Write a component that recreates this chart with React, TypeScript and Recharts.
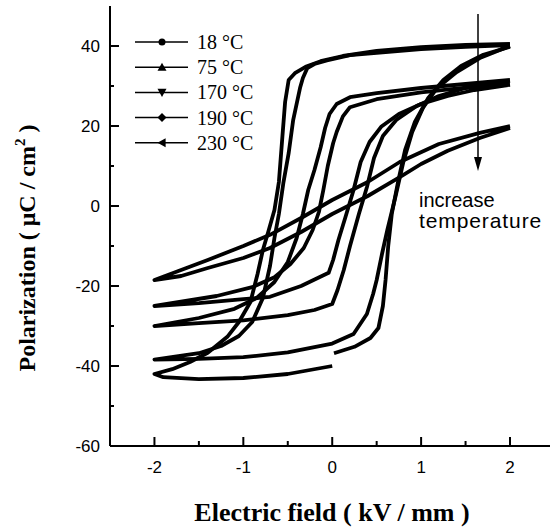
import { LineChart, Line, XAxis, YAxis } from "recharts";

// P-E hysteresis loops, [E (kV/mm), P (uC/cm2)], descending branch then ascending branch
const loop18: [number, number | null][] = [
  [2, 40.5], [1.5, 40.3], [1, 39.7], [0.5, 38.8], [0.12, 37.5], [-0.13, 36.2], [-0.3, 34.8],
  [-0.42, 33.2], [-0.49, 31.5], [-0.53, 26], [-0.56, 17.5], [-0.6, 6], [-0.65, -1], [-0.72, -6.5],
  [-0.78, -11], [-0.84, -17], [-0.92, -24], [-1.05, -29], [-1.18, -32.7], [-1.4, -36.7],
  [-1.6, -39], [-1.8, -40.8], [-2, -42], [-1.9, -42.8], [-1.5, -43.3], [-1, -43], [-0.5, -42],
  [0, -40], [0, null], [0.02, -36.8], [0.25, -35.2], [0.43, -33], [0.52, -30.5], [0.57, -25],
  [0.6, -18.5], [0.63, -10], [0.67, -2], [0.74, 6], [0.82, 14], [0.93, 21], [1.08, 27],
  [1.25, 31.5], [1.45, 35], [1.7, 37.8], [2, 39.8],
];

const loop75: [number, number][] = [
  [2, 40.2], [1.5, 39.8], [1, 39.2], [0.5, 38.3], [0.2, 37.7], [-0.06, 36.4], [-0.2, 35.5],
  [-0.28, 34.5], [-0.33, 32], [-0.36, 29.7], [-0.44, 21.4], [-0.49, 13.2], [-0.55, 5.7],
  [-0.6, -2], [-0.65, -8], [-0.7, -15], [-0.78, -23], [-0.9, -29], [-1.05, -32.5],
  [-1.25, -35], [-1.5, -36.8], [-2, -38.4], [-1.5, -38.2], [-1, -37.8], [-0.5, -36.6],
  [0, -34.4], [0.24, -32], [0.39, -27], [0.46, -22], [0.5, -18.5], [0.56, -12], [0.62, -6],
  [0.71, 2.2], [0.8, 11], [0.9, 18.5], [1.02, 24.5], [1.18, 29.5], [1.4, 33.5], [1.66, 37],
  [2, 40],
];

const loop170: [number, number][] = [
  [2, 31.5], [1.5, 30.5], [1, 29.5], [0.5, 28.2], [0.2, 27.2], [0.05, 25.5], [-0.03, 23],
  [-0.08, 19.5], [-0.13, 14.7], [-0.2, 9], [-0.27, 4], [-0.33, -2], [-0.4, -8], [-0.5, -14],
  [-0.65, -19], [-0.85, -23], [-1.1, -25.7], [-1.5, -28], [-2, -30], [-1.5, -29.3],
  [-1, -28.6], [-0.5, -27.3], [-0.2, -26], [0, -24.5], [0.06, -21], [0.13, -16], [0.2, -10],
  [0.3, -2], [0.39, 4.7], [0.47, 12], [0.57, 17.5], [0.72, 21.5], [0.95, 25], [1.2, 27.5],
  [1.5, 29.5], [2, 31.3],
];

const loop190: [number, number][] = [
  [2, 30.5], [1.5, 29.6], [1, 28.4], [0.5, 26.7], [0.2, 24.7], [0.12, 22.4], [0.05, 18.5],
  [0.01, 15.7], [-0.05, 10], [-0.1, 4], [-0.15, -1.5], [-0.22, -6], [-0.32, -10.5],
  [-0.47, -14.5], [-0.65, -17.8], [-0.9, -20.3], [-1.3, -22.5], [-2, -25], [-1.5, -24.3],
  [-1, -23.3], [-0.7, -22.7], [-0.35, -20], [-0.04, -16.7], [0.01, -13.5], [0.07, -8.5],
  [0.15, -2.7], [0.24, 4], [0.32, 11], [0.42, 16], [0.55, 19.8], [0.75, 23], [1, 25.5],
  [1.3, 27.5], [1.6, 29], [2, 30.3],
];

const loop230: [number, number][] = [
  [2, 20], [1.66, 18.3], [1.2, 15.5], [0.76, 11], [0.4, 6], [0, 1.5], [-0.35, -3],
  [-0.7, -7.2], [-1, -10], [-1.4, -13.5], [-1.7, -16], [-2, -18.5], [-1.7, -17.5],
  [-1.4, -15.5], [-1, -13], [-0.7, -10.5], [-0.35, -6.5], [0, -2], [0.4, 2.5], [0.76, 7.2],
  [1, 10.5], [1.3, 13.8], [1.66, 17], [2, 19.5],
];

const xTicks = [-2, -1.5, -1, -0.5, 0, 0.5, 1, 1.5, 2];
const yTicks = [-60, -50, -40, -30, -20, -10, 0, 10, 20, 30, 40];
const labels = ["18 °C", "75 °C", "170 °C", "190 °C", "230 °C"];
const markers = ["circle", "up", "down", "diamond", "left"];

const toRows = (loop: [number, number | null][]) => loop.map(([x, y]) => ({ x, y }));

const series = [loop18, loop75, loop170, loop190, loop230].map((loop, i) => ({
  name: labels[i],
  data: toRows(loop),
}));

const sans = "'Liberation Sans', Arial, sans-serif";
const serif = "'Liberation Serif', 'Times New Roman', serif";

function Marker({ kind, cx, cy }: { kind: string; cx: number; cy: number }) {
  const s = 4.5;
  if (kind === "circle") return <circle cx={cx} cy={cy} r={3.5} fill="#000" />;
  if (kind === "up")
    return <polygon points={`${cx},${cy - s} ${cx + s},${cy + s * 0.8} ${cx - s},${cy + s * 0.8}`} fill="#000" />;
  if (kind === "down")
    return <polygon points={`${cx},${cy + s} ${cx + s},${cy - s * 0.8} ${cx - s},${cy - s * 0.8}`} fill="#000" />;
  if (kind === "diamond")
    return <polygon points={`${cx},${cy - s} ${cx + s},${cy} ${cx},${cy + s} ${cx - s},${cy}`} fill="#000" />;
  return <polygon points={`${cx - s},${cy} ${cx + s * 0.8},${cy - s} ${cx + s * 0.8},${cy + s}`} fill="#000" />;
}

function BottomTick({ x, y, payload }: any) {
  const v = payload.value;
  const major = Number.isInteger(v);
  return (
    <g>
      <line x1={x} x2={x} y1={y} y2={y - (major ? 9 : 5)} stroke="#000" strokeWidth={2} />
      {major && (
        <text x={x} y={y + 27} textAnchor="middle" fontSize={17} fontFamily={sans} fill="#000">
          {v}
        </text>
      )}
    </g>
  );
}

function TopTick({ x, y }: any) {
  return <line x1={x} x2={x} y1={y} y2={y + 3} stroke="#000" strokeWidth={1} />;
}

function LeftTick({ x, y, payload }: any) {
  const v = payload.value;
  const major = v % 20 === 0;
  return (
    <g>
      <line x1={x} x2={x + (major ? 9 : 4)} y1={y} y2={y} stroke="#000" strokeWidth={2} />
      {major && (
        <text x={x - 10} y={y + 6} textAnchor="end" fontSize={17} fontFamily={sans} fill="#000">
          {v}
        </text>
      )}
    </g>
  );
}

export default function App() {
  return (
    <div style={{ position: "absolute", left: 0, top: 0, width: 550, height: 527, background: "#fff" }}>
      <LineChart width={550} height={527} margin={{ top: 6, right: 0, bottom: 41, left: 50 }}>
        <XAxis
          dataKey="x"
          type="number"
          domain={[-2.5, 2.45]}
          ticks={xTicks}
          allowDataOverflow
          height={40}
          tickSize={0}
          tickMargin={0}
          tickLine={false}
          axisLine={{ stroke: "#000", strokeWidth: 2 }}
          tick={<BottomTick />}
        />
        <XAxis
          xAxisId="top"
          orientation="top"
          type="number"
          domain={[-2.5, 2.45]}
          ticks={xTicks}
          allowDataOverflow
          height={0}
          tickSize={0}
          tickMargin={0}
          tickLine={false}
          axisLine={{ stroke: "#000", strokeWidth: 2 }}
          tick={<TopTick />}
        />
        <YAxis
          type="number"
          domain={[-60, 50]}
          ticks={yTicks}
          allowDataOverflow
          width={60}
          tickSize={0}
          tickMargin={0}
          tickLine={false}
          axisLine={{ stroke: "#000", strokeWidth: 2 }}
          tick={<LeftTick />}
        />
        {series.map((s) => (
          <Line
            key={s.name}
            name={s.name}
            data={s.data}
            dataKey="y"
            type="linear"
            stroke="#000"
            strokeWidth={3.8}
            strokeLinejoin="round"
            dot={false}
            activeDot={false}
            isAnimationActive={false}
          />
        ))}

        <g>
          {labels.map((label, i) => {
            const cy = 42 + i * 25.2;
            return (
              <g key={label}>
                <line x1={135} x2={188} y1={cy} y2={cy} stroke="#000" strokeWidth={1.5} />
                <Marker kind={markers[i]} cx={162} cy={cy} />
                <text x={197} y={cy + 7} fontSize={20} fontFamily={serif} fill="#000">
                  {label}
                </text>
              </g>
            );
          })}
        </g>

        <line x1={478} x2={478} y1={14} y2={160} stroke="#000" strokeWidth={1.5} />
        <polygon points="474,157 482,157 478,171" fill="#000" />
        <text x={419} y={207} fontSize={20} fontFamily={sans} fill="#000">increase</text>
        <text x={419} y={228} fontSize={21} letterSpacing={0.9} fontFamily={sans} fill="#000">temperature</text>

        <text x={332} y={521} textAnchor="middle" fontSize={26} fontWeight="bold" fontFamily={serif} fill="#000">
          Electric field ( kV / mm )
        </text>
        <text
          transform="translate(35,248) rotate(-90)"
          textAnchor="middle"
          fontSize={24}
          fontWeight="bold"
          fontFamily={serif}
          fill="#000"
        >
          Polarization ( μC / cm<tspan dy={-10} fontSize={15}>2</tspan>
          <tspan dy={10}> )</tspan>
        </text>
      </LineChart>
    </div>
  );
}
